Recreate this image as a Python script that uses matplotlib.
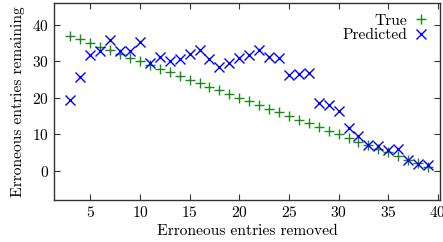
import matplotlib
matplotlib.use("Agg")
import matplotlib.pyplot as plt

plt.rcParams['font.family'] = 'serif'
plt.rcParams['font.serif'] = ['cmr10', 'DejaVu Serif']
plt.rcParams['axes.formatter.use_mathtext'] = True
plt.rcParams['font.size'] = 11.2

removed = list(range(3, 40))
true_vals = [37, 36, 35, 34, 33, 32, 31, 30, 29, 28, 27, 26, 25, 24, 23, 22, 21, 20,
             19, 18, 17, 16, 15, 14, 13, 12, 11, 10, 9, 8, 7, 6, 5, 4, 3, 2, 1]
predicted = [19.3, 25.7, 31.8, 32.7, 35.7, 32.7, 32.7, 35.4, 29.5, 31.1, 30.2, 30.6,
             32.1, 33.0, 30.6, 28.3, 29.5, 30.9, 31.8, 33.2, 31.3, 30.8, 26.3, 26.6,
             26.9, 18.5, 18.1, 16.5, 11.7, 9.4, 7.1, 6.7, 5.8, 5.9, 2.8, 1.9, 1.6]

fig = plt.figure(figsize=(4.43, 2.42), dpi=100)
ax = fig.add_axes([0.122, 0.174, 0.871, 0.814])

ax.plot(removed, true_vals, "+", color="#1a8a1a", markersize=7, markeredgewidth=1.0, label="True")
ax.plot(removed, predicted, "x", color="#0000ff", markersize=7, markeredgewidth=1.0, label="Predicted")

ax.set_xlim(1.35, 40.2)
ax.set_ylim(-8, 46)
ax.set_xticks([5, 10, 15, 20, 25, 30, 35, 40])
ax.set_yticks([0, 10, 20, 30, 40])
ax.tick_params(direction="in", top=True, right=True, length=4, width=0.8, colors="#333333",
               labelcolor="black")
for s in ax.spines.values():
    s.set_linewidth(1.0)
    s.set_color("#333333")

ax.set_xlabel("Erroneous entries removed", labelpad=3)
ax.set_ylabel("Erroneous entries remaining", labelpad=5)
ax.legend(loc="upper right", markerfirst=False, frameon=False, handlelength=1.0,
          handletextpad=0.4, borderaxespad=0.3, labelspacing=0.05)

fig.savefig("out.png", dpi=100)
